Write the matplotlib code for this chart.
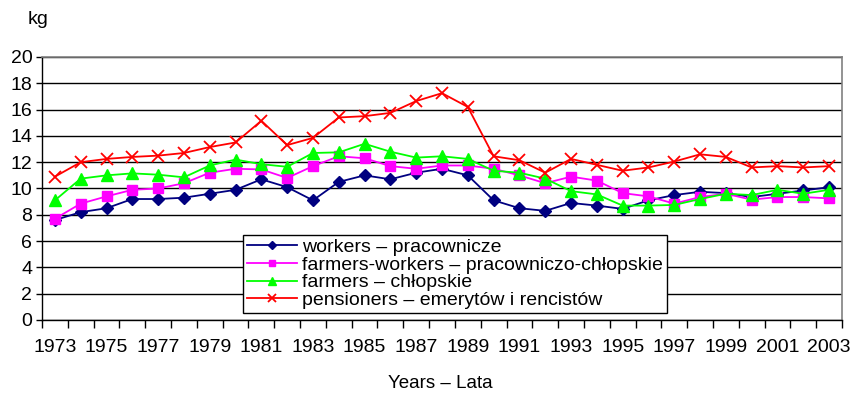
import matplotlib.pyplot as plt
import numpy as np

plt.rcParams['font.family'] = ['Liberation Sans', 'DejaVu Sans']

# Dane (kg)
years = list(range(1973, 2004))
workers = [7.6, 8.2, 8.5, 9.2, 9.2, 9.3, 9.6, 9.9, 10.7, 10.1,
           9.1, 10.5, 11.0, 10.7, 11.2, 11.5, 11.0, 9.1, 8.5, 8.3,
           8.9, 8.7, 8.45, 9.1, 9.5, 9.75, 9.65, 9.35, 9.6, 9.85, 10.1]
farm_workers = [7.7, 8.85, 9.4, 9.9, 10.0, 10.4, 11.2, 11.5, 11.45, 10.8,
                11.7, 12.45, 12.3, 11.7, 11.5, 11.75, 11.75, 11.5, 11.0, 10.4,
                10.9, 10.6, 9.65, 9.4, 8.85, 9.35, 9.6, 9.15, 9.35, 9.35, 9.25]
farmers = [9.1, 10.75, 11.0, 11.15, 11.05, 10.85, 11.75, 12.2, 11.85, 11.65,
           12.7, 12.75, 13.4, 12.8, 12.35, 12.45, 12.25, 11.35, 11.2, 10.75,
           9.8, 9.55, 8.7, 8.7, 8.75, 9.2, 9.6, 9.5, 9.9, 9.6, 9.9]
pensioners = [10.9, 12.0, 12.25, 12.4, 12.5, 12.7, 13.15, 13.5, 15.15, 13.3,
              13.85, 15.4, 15.5, 15.75, 16.65, 17.25, 16.2, 12.45, 12.15, 11.2,
              12.25, 11.8, 11.35, 11.6, 12.05, 12.6, 12.4, 11.6, 11.7, 11.6, 11.7]

labels = ["workers \u2013 pracownicze",
          "farmers-workers \u2013 pracowniczo-ch\u0142opskie",
          "farmers \u2013 ch\u0142opskie",
          "pensioners \u2013 emeryt\u00f3w i rencist\u00f3w"]

fig = plt.figure(figsize=(8.55, 4.03), dpi=100)
ax = fig.add_axes([42 / 855, 83 / 403, 800 / 855, 263 / 403])

x = np.arange(len(years))
ax.plot(x, workers, color='#000080', marker='D', markersize=6, lw=1.3, label=labels[0])
ax.plot(x, farm_workers, color='#FF00FF', marker='s', markersize=6.5, lw=1.3, label=labels[1])
ax.plot(x, farmers, color='#00FF00', marker='^', markersize=8, lw=1.3, label=labels[2])
ax.plot(x, pensioners, color='#FF0000', marker='x', markersize=8, mew=1.3, lw=1.3, label=labels[3])

ax.set_xlim(-0.5, len(years) - 0.5)
ax.set_ylim(0, 20)
ax.set_yticks(range(0, 21, 2))
ax.yaxis.grid(True, color='black', lw=1)
ax.set_axisbelow(True)

ax.set_xticks(x[::2])
ax.set_xticklabels([str(y) for y in years[::2]])
ax.set_xticks(np.arange(-0.5, len(years), 1), minor=True)
ax.tick_params(axis='x', which='major', length=0, pad=14, labelsize=14)
ax.tick_params(axis='x', which='minor', length=6, width=1, color='black')
ax.tick_params(axis='y', length=4, width=1, pad=3, labelsize=14)

for s in ['top', 'right']:
    ax.spines[s].set_color('#808080')
    ax.spines[s].set_linewidth(1.2)
for s in ['left', 'bottom']:
    ax.spines[s].set_color('black')
    ax.spines[s].set_linewidth(1)

fig.text(28 / 855, 1 - 20 / 403, "kg", fontsize=14, va='center', ha='left')
fig.text(440 / 855, 1 - 383 / 403, "Years \u2013 Lata", fontsize=13.5, va='center', ha='center')

leg = ax.legend(loc='lower left', bbox_to_anchor=(0.251, 0.027), fontsize=14,
                frameon=True, fancybox=False, edgecolor='black', framealpha=1,
                handlelength=2.6, labelspacing=0.0, borderpad=0.2,
                handletextpad=0.25, borderaxespad=0, markerscale=0.75)
leg.get_frame().set_linewidth(1)

fig.savefig("out.png", dpi=100)
